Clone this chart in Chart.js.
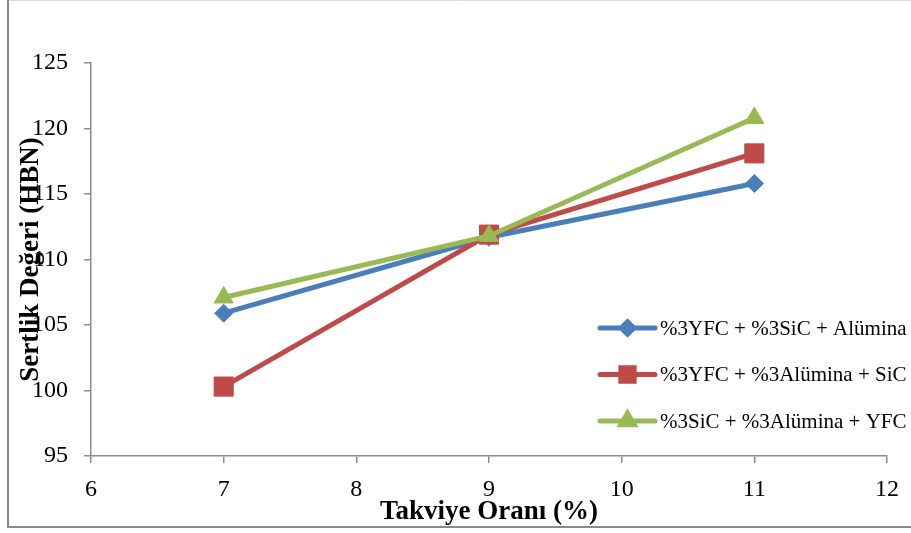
<!DOCTYPE html>
<html>
<head>
<meta charset="utf-8">
<script src="https://cdn.jsdelivr.net/npm/chart.js@4/dist/chart.umd.min.js"></script>
<style>
  html, body { margin: 0; padding: 0; background: #fff; }
  #wrap { width: 911px; height: 533px; }
</style>
</head>
<body>
<div id="wrap"><canvas id="c" width="911" height="533"></canvas></div>
<script>
// Reinforcement ratio (%) on the x axis
const ratios = [7, 9, 11];

// Series names
const seriesNames = [
  '%3YFC + %3SiC + Alümina',
  '%3YFC + %3Alümina + SiC',
  '%3SiC + %3Alümina + YFC'
];

// Hardness values (HBN) per series
const yfcSicAlumina = [105.9, 111.7, 115.8];
const yfcAluminaSic = [100.3, 111.9, 118.1];
const sicAluminaYfc = [107.1, 111.8, 120.8];

// Axis ticks
const xTicks = [6, 7, 8, 9, 10, 11, 12];
const yTicks = [95, 100, 105, 110, 115, 120, 125];

const SERIF = '"Liberation Serif", "Times New Roman", serif';
const AXIS_GREY = '#8c8c8c';

const toPoints = vals => vals.map((v, i) => ({ x: ratios[i], y: v }));

// Outer frame of the figure
const framePlugin = {
  id: 'frame',
  beforeDraw(chart) {
    const { ctx, width, height } = chart;
    ctx.save();
    ctx.fillStyle = '#fff';
    ctx.fillRect(0, 0, width, height);
    ctx.strokeStyle = '#d9d9d9';
    ctx.lineWidth = 1;
    ctx.beginPath();
    ctx.moveTo(8, 0.5);
    ctx.lineTo(width, 0.5);
    ctx.stroke();
    ctx.strokeStyle = '#8a8a8a';
    ctx.lineWidth = 2;
    ctx.beginPath();
    ctx.moveTo(8, 0);
    ctx.lineTo(8, height - 6);
    ctx.lineTo(width, height - 6);
    ctx.stroke();
    ctx.restore();
  }
};

// Legend inside the plot: line sample with marker, then the label
const lineLegendPlugin = {
  id: 'lineLegend',
  afterDraw(chart) {
    const { ctx, chartArea: a } = chart;
    const x0 = a.right - 287;
    const sample = 55;
    ctx.save();
    chart.data.datasets.forEach((ds, i) => {
      const y = a.top + 265 + i * 46.5;
      ctx.strokeStyle = ds.borderColor;
      ctx.lineWidth = 5;
      ctx.lineCap = 'round';
      ctx.beginPath();
      ctx.moveTo(x0, y);
      ctx.lineTo(x0 + sample, y);
      ctx.stroke();
      ctx.fillStyle = ds.pointBackgroundColor;
      ctx.strokeStyle = ds.pointBorderColor;
      Chart.helpers.drawPoint(ctx, {
        pointStyle: ds.pointStyle,
        radius: ds.pointRadius * 0.7,
        rotation: 0,
        borderWidth: 1
      }, x0 + sample / 2, y);
      ctx.fillStyle = '#000';
      ctx.font = '21px ' + SERIF;
      ctx.textAlign = 'left';
      ctx.textBaseline = 'middle';
      ctx.fillText(ds.label, x0 + sample + 5, y + 1);
    });
    ctx.restore();
  }
};

const makeSet = (label, vals, color, style, radius, order) => ({
  label,
  data: toPoints(vals),
  borderColor: color,
  backgroundColor: color,
  pointBackgroundColor: color,
  pointBorderColor: color,
  borderWidth: 5,
  pointStyle: style,
  pointRadius: radius,
  pointBorderWidth: 1,
  tension: 0,
  order
});

new Chart(document.getElementById('c'), {
  type: 'line',
  data: {
    datasets: [
      makeSet(seriesNames[0], yfcSicAlumina, '#4a7ebb', 'rectRot', 9, 3),
      makeSet(seriesNames[1], yfcAluminaSic, '#be4b48', 'rect', 13.5, 2),
      makeSet(seriesNames[2], sicAluminaYfc, '#98b954', 'triangle', 11, 1)
    ]
  },
  options: {
    responsive: false,
    devicePixelRatio: 1,
    animation: false,
    layout: { padding: { top: 63, right: 24, left: 0, bottom: 0 } },
    plugins: {
      legend: { display: false },
      tooltip: { enabled: false }
    },
    scales: {
      x: {
        type: 'linear',
        min: 6,
        max: 12,
        afterBuildTicks: s => { s.ticks = xTicks.map(v => ({ value: v })); },
        afterFit: s => { s.height = 77; },
        grid: { display: true, drawOnChartArea: false, drawTicks: true, tickLength: 7, color: AXIS_GREY, lineWidth: 1.5 },
        border: { display: true, color: AXIS_GREY, width: 1.5 },
        ticks: { color: '#000', font: { family: SERIF, size: 24 }, padding: 12, maxRotation: 0 },
        title: {
          display: true,
          text: 'Takviye Oranı (%)',
          color: '#000',
          font: { family: SERIF, size: 27, weight: 'bold' },
          padding: { top: 0, bottom: 5 }
        }
      },
      y: {
        type: 'linear',
        min: 95,
        max: 125,
        afterBuildTicks: s => { s.ticks = yTicks.map(v => ({ value: v })); },
        afterFit: s => { s.width = 91; },
        grid: { display: true, drawOnChartArea: false, drawTicks: true, tickLength: 7, color: AXIS_GREY, lineWidth: 1.5 },
        border: { display: true, color: AXIS_GREY, width: 1.5 },
        ticks: { color: '#000', font: { family: SERIF, size: 24 }, padding: 16 },
        title: {
          display: true,
          text: 'Sertlik Değeri (HBN)',
          color: '#000',
          font: { family: SERIF, size: 27, weight: 'bold' },
          padding: { top: 15, bottom: 0 }
        }
      }
    }
  },
  plugins: [framePlugin, lineLegendPlugin]
});
</script>
</body>
</html>
